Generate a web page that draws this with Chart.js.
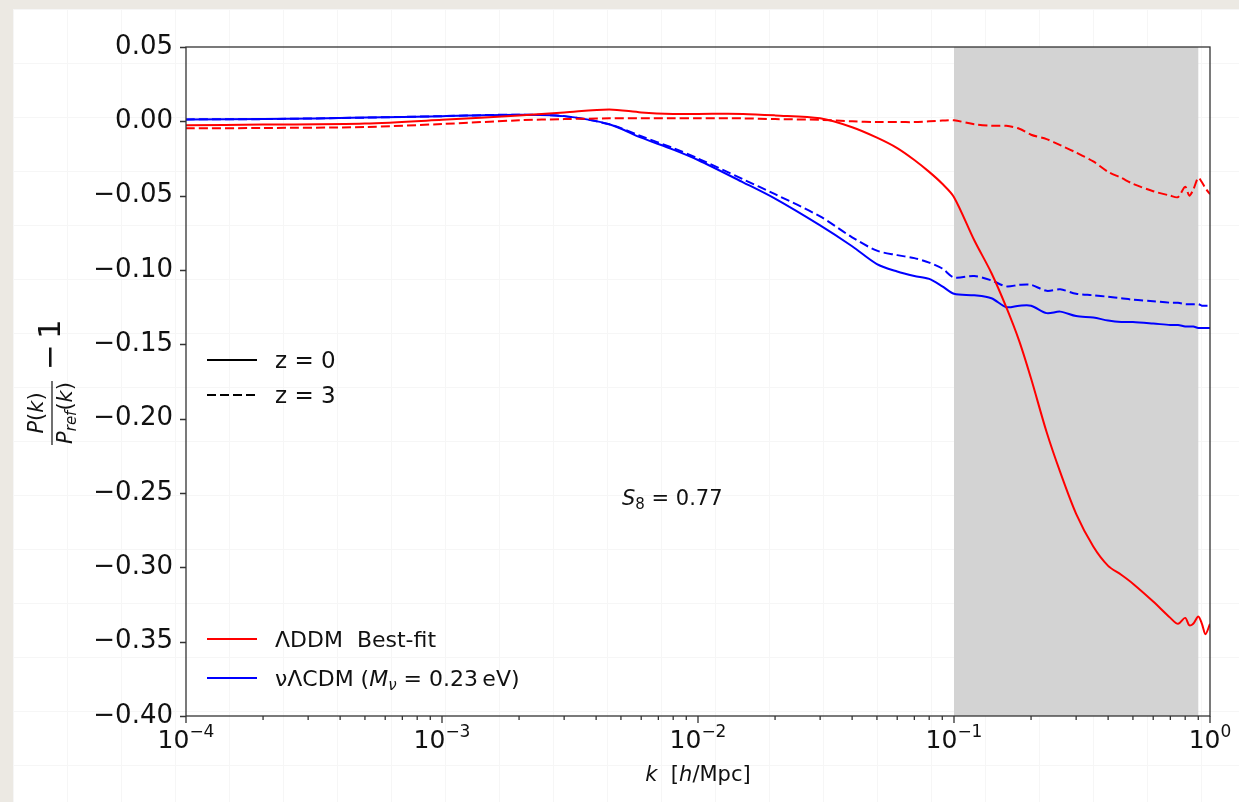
<!DOCTYPE html>
<html>
<head>
<meta charset="utf-8">
<script src="https://cdn.jsdelivr.net/npm/chart.js@4.4.1/dist/chart.umd.min.js"></script>
<style>
    html, body { margin: 0; padding: 0; }
    body { width: 1239px; height: 802px; background: #ece9e3; position: relative; overflow: hidden; }
    #paper {
        position: absolute; left: 13px; top: 9px; right: 0; bottom: 0;
        background-color: #fff;
        background-image: linear-gradient(#f6f6f6 1px, transparent 1px),
                          linear-gradient(90deg, #f6f6f6 1px, transparent 1px);
        background-size: 54px 54px;
    }
    #chart { position: absolute; left: 0; top: 0; }
</style>
</head>
<body>
<div id="paper"></div>
<canvas id="chart" width="1239" height="802"></canvas>
<script>
// ── Data ────────────────────────────────────────────────────────
const kValues = [1e-4, 2e-4, 5e-4, 1e-3, 2e-3, 3e-3, 4.5e-3, 6e-3, 8e-3, 0.01,
                 0.015, 0.02, 0.03, 0.04, 0.05, 0.06, 0.07, 0.08, 0.09, 0.1,
                 0.12, 0.14, 0.16, 0.18, 0.2, 0.23, 0.26, 0.3, 0.35, 0.4,
                 0.45, 0.5, 0.6, 0.7, 0.75, 0.8, 0.83, 0.86, 0.9, 0.93,
                 0.96, 1.0];

// ΛDDM best-fit, z = 0 (solid) and z = 3 (dashed)
const ddmZ0 = [-0.0027, -0.0022, -0.0015, 0.001, 0.004, 0.006, 0.008, 0.006, 0.005, 0.005,
               0.005, 0.004, 0.002, -0.004, -0.011, -0.018, -0.026, -0.034, -0.042, -0.051,
               -0.080, -0.102, -0.125, -0.148, -0.173, -0.209, -0.236, -0.264, -0.286, -0.299,
               -0.305, -0.311, -0.323, -0.334, -0.338, -0.334, -0.339, -0.338, -0.333, -0.338,
               -0.345, -0.338];
const ddmZ3 = [-0.0047, -0.0045, -0.0038, -0.0018, 0.0007, 0.0015, 0.002, 0.002, 0.002, 0.002,
               0.002, 0.0015, 0.001, 0.0, -0.0005, -0.0005, -0.0005, 0.0, 0.0005, 0.0007,
               -0.002, -0.003, -0.003, -0.005, -0.009, -0.012, -0.016, -0.021, -0.027, -0.034,
               -0.038, -0.042, -0.047, -0.050, -0.051, -0.044, -0.050, -0.046, -0.038, -0.041,
               -0.045, -0.049];

// νΛCDM (Mν = 0.23 eV), z = 0 (solid) and z = 3 (dashed)
const ncdmZ0 = [0.0013, 0.0015, 0.0025, 0.0035, 0.0045, 0.0035, -0.002, -0.011, -0.019, -0.026,
                -0.041, -0.052, -0.070, -0.084, -0.096, -0.101, -0.104, -0.106, -0.111, -0.116,
                -0.117, -0.119, -0.125, -0.124, -0.124, -0.129, -0.128, -0.131, -0.132, -0.134,
                -0.135, -0.135, -0.136, -0.137, -0.137, -0.138, -0.138, -0.138, -0.139, -0.139,
                -0.139, -0.139];
const ncdmZ3 = [0.0013, 0.0015, 0.0025, 0.0035, 0.0045, 0.0035, -0.002, -0.010, -0.018, -0.025,
                -0.039, -0.049, -0.064, -0.078, -0.087, -0.090, -0.092, -0.095, -0.099, -0.105,
                -0.104, -0.107, -0.111, -0.110, -0.110, -0.114, -0.113, -0.116, -0.117, -0.118,
                -0.119, -0.120, -0.121, -0.122, -0.122, -0.123, -0.123, -0.123, -0.123, -0.124,
                -0.124, -0.124];

const shadedRange = [0.1, 0.9];     // grey band in k
const xDecades    = [-4, -3, -2, -1, 0];
const yTickStep   = 0.05;

// ── Helpers ─────────────────────────────────────────────────────
const FAM = '"DejaVu Sans", sans-serif';
const font = (size, italic) => (italic ? 'italic ' : '') + size + 'px ' + FAM;

function toPoints(ys) {
    return kValues.map((k, i) => ({ x: k, y: ys[i] }));
}

// draw a run of text pieces (different fonts / offsets) in a row
function drawRuns(ctx, runs, x, y, align) {
    let total = 0;
    runs.forEach(r => { ctx.font = r.font; r.w = ctx.measureText(r.t).width; total += r.w; });
    let cx = align === 'center' ? x - total / 2 : x;
    runs.forEach(r => {
        ctx.font = r.font;
        ctx.fillText(r.t, cx, y + (r.dy || 0));
        cx += r.w;
    });
}

// ── Grey band behind the curves ─────────────────────────────────
const bandPlugin = {
    id: 'band',
    beforeDatasetsDraw(chart) {
        const { ctx, chartArea, scales } = chart;
        const x0 = scales.x.getPixelForValue(shadedRange[0]);
        const x1 = scales.x.getPixelForValue(shadedRange[1]);
        ctx.save();
        ctx.fillStyle = '#d3d3d3';
        ctx.fillRect(x0, chartArea.top, x1 - x0, chartArea.bottom - chartArea.top);
        ctx.restore();
    }
};

// ── Spines, ticks, labels, legends, annotation ──────────────────
const decorPlugin = {
    id: 'decor',
    afterDraw(chart) {
        const { ctx, chartArea: a, scales } = chart;
        const xs = scales.x, ys = scales.y;
        ctx.save();

        // spines
        ctx.strokeStyle = '#333';
        ctx.lineWidth = 1.3;
        ctx.strokeRect(a.left, a.top, a.right - a.left, a.bottom - a.top);

        // y ticks
        ctx.beginPath();
        for (let v = ys.min; v <= ys.max + 1e-9; v += yTickStep) {
            const py = Math.round(ys.getPixelForValue(v)) + 0.5;
            ctx.moveTo(a.left, py);
            ctx.lineTo(a.left - 6, py);
        }
        // x ticks: majors and minors
        xDecades.forEach(e => {
            const px = xs.getPixelForValue(Math.pow(10, e));
            ctx.moveTo(px, a.bottom);
            ctx.lineTo(px, a.bottom + 7);
            if (e < 0) {
                for (let m = 2; m <= 9; m++) {
                    const pm = xs.getPixelForValue(m * Math.pow(10, e));
                    ctx.moveTo(pm, a.bottom);
                    ctx.lineTo(pm, a.bottom + 4);
                }
            }
        });
        ctx.stroke();

        // x tick labels 10^e
        ctx.fillStyle = '#111';
        ctx.textBaseline = 'alphabetic';
        xDecades.forEach(e => {
            const px = xs.getPixelForValue(Math.pow(10, e));
            const sup = e < 0 ? '\u2212' + Math.abs(e) : String(e);
            drawRuns(ctx, [
                { t: '10', font: font(25) },
                { t: sup, font: font(17), dy: -11 }
            ], px, 748, 'center');
        });

        // x axis title
        drawRuns(ctx, [
            { t: 'k', font: font(21, true) },
            { t: '  [', font: font(21) },
            { t: 'h', font: font(21, true) },
            { t: '/Mpc]', font: font(21) }
        ], (a.left + a.right) / 2, 781, 'center');

        // y axis title (rotated fraction)
        ctx.save();
        ctx.translate(52, 402);
        ctx.rotate(-Math.PI / 2);
        drawRuns(ctx, [
            { t: 'P', font: font(21, true) },
            { t: '(', font: font(21) },
            { t: 'k', font: font(21, true) },
            { t: ')', font: font(21) }
        ], -11, -9, 'center');
        drawRuns(ctx, [
            { t: 'P', font: font(21, true) },
            { t: 'ref', font: font(15, true), dy: 4 },
            { t: '(', font: font(21) },
            { t: 'k', font: font(21, true) },
            { t: ')', font: font(21) }
        ], -11, 20, 'center');
        ctx.strokeStyle = '#111';
        ctx.lineWidth = 1.2;
        ctx.beginPath();
        ctx.moveTo(-43, 0);
        ctx.lineTo(21, 0);
        ctx.stroke();
        ctx.font = font(31);
        ctx.fillText('\u2212', 32, 8);
        ctx.fillText('1', 63, 8);
        ctx.restore();

        // legend: line styles
        ctx.strokeStyle = '#000';
        ctx.lineWidth = 2;
        ctx.beginPath(); ctx.moveTo(207, 360); ctx.lineTo(257, 360); ctx.stroke();
        ctx.setLineDash([9, 4]);
        ctx.beginPath(); ctx.moveTo(207, 395); ctx.lineTo(257, 395); ctx.stroke();
        ctx.setLineDash([]);
        ctx.fillStyle = '#111';
        drawRuns(ctx, [{ t: 'z = 0', font: font(23) }], 275, 368, 'left');
        drawRuns(ctx, [{ t: 'z = 3', font: font(23) }], 275, 403, 'left');

        // legend: models
        ctx.strokeStyle = '#ff0000';
        ctx.beginPath(); ctx.moveTo(207, 639); ctx.lineTo(257, 639); ctx.stroke();
        ctx.strokeStyle = '#0000ff';
        ctx.beginPath(); ctx.moveTo(207, 678); ctx.lineTo(257, 678); ctx.stroke();
        drawRuns(ctx, [{ t: '\u039BDDM  Best-fit', font: font(22) }], 275, 647, 'left');
        drawRuns(ctx, [
            { t: '\u03BD\u039BCDM (', font: font(22) },
            { t: 'M', font: font(22, true) },
            { t: '\u03BD', font: font(15, true), dy: 4 },
            { t: ' = 0.23\u2009eV)', font: font(22) }
        ], 275, 686, 'left');

        // annotation
        drawRuns(ctx, [
            { t: 'S', font: font(21, true) },
            { t: '8', font: font(15), dy: 4 },
            { t: ' = 0.77', font: font(21) }
        ], 622, 505, 'left');

        ctx.restore();
    }
};

// ── Chart ───────────────────────────────────────────────────────
const ctx = document.getElementById('chart').getContext('2d');
new Chart(ctx, {
    type: 'line',
    data: {
        datasets: [
            { label: 'ΛDDM z=0', data: toPoints(ddmZ0), borderColor: '#ff0000' },
            { label: 'ΛDDM z=3', data: toPoints(ddmZ3), borderColor: '#ff0000', borderDash: [9, 4] },
            { label: 'νΛCDM z=0', data: toPoints(ncdmZ0), borderColor: '#0000ff' },
            { label: 'νΛCDM z=3', data: toPoints(ncdmZ3), borderColor: '#0000ff', borderDash: [9, 4] }
        ]
    },
    options: {
        responsive: false,
        animation: false,
        devicePixelRatio: 1,
        layout: { padding: { left: 0, top: 47, right: 29, bottom: 0 } },
        elements: {
            point: { radius: 0 },
            line: { borderWidth: 2, fill: false, tension: 0.3 }
        },
        plugins: {
            legend: { display: false },
            tooltip: { enabled: false }
        },
        scales: {
            x: {
                type: 'logarithmic',
                min: 1e-4,
                max: 1,
                grid: { display: false },
                border: { display: false },
                ticks: { display: false },
                afterFit: s => { s.height = 86; }
            },
            y: {
                min: -0.4,
                max: 0.05,
                grid: { display: false, drawTicks: false },
                border: { display: false },
                ticks: {
                    stepSize: yTickStep,
                    autoSkip: false,
                    padding: 13,
                    color: '#111',
                    font: { family: 'DejaVu Sans', size: 26 },
                    callback: v => Math.abs(v) < 1e-9 ? '0.00'
                        : (v < 0 ? '\u2212' : '') + Math.abs(v).toFixed(2)
                },
                afterFit: s => { s.width = 186; }
            }
        }
    },
    plugins: [bandPlugin, decorPlugin]
});
</script>
</body>
</html>
